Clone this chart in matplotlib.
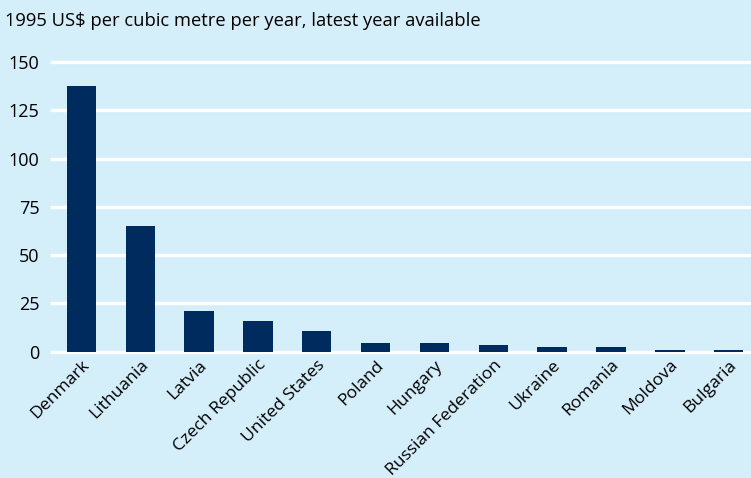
import matplotlib
matplotlib.use("Agg")
import matplotlib.pyplot as plt

countries = ["Denmark", "Lithuania", "Latvia", "Czech Republic", "United States",
             "Poland", "Hungary", "Russian Federation", "Ukraine", "Romania",
             "Moldova", "Bulgaria"]
values = [137.5, 65, 20.8, 15.6, 10.4, 4.4, 4.4, 3.4, 2.3, 2.3, 0.8, 0.8]
yticks = [0, 25, 50, 75, 100, 125, 150]

bg = "#d4eefa"
bar_color = "#002b5e"
plt.rcParams["font.family"] = ["Open Sans", "DejaVu Sans"]

fig = plt.figure(figsize=(7.51, 4.78), dpi=100, facecolor=bg)
ax = fig.add_axes([0.0692, 0.2646, 0.9308, 0.6057], facecolor=bg)

x = list(range(len(countries)))
for t in yticks:
    ax.axhline(t, color="white", lw=2.5, zorder=1, clip_on=False)
ax.bar(x, values, width=0.5, color=bar_color, zorder=2)

ax.set_xlim(-0.5, 11.38)
ax.set_ylim(0, 150)
ax.set_yticks(yticks)
ax.set_yticklabels([str(t) for t in yticks], fontsize=13)
ax.set_xticks(x)
ax.set_xticklabels(countries, rotation=45, ha="right", rotation_mode="anchor", fontsize=12.6)
ax.tick_params(axis="both", length=0, colors="black")
ax.tick_params(axis="x", pad=4)
ax.tick_params(axis="y", pad=9)
for s in ax.spines.values():
    s.set_visible(False)

fig.text(0.007, 0.957, "1995 US$ per cubic metre per year, latest year available",
         fontsize=13.2, va="center", ha="left")

fig.savefig("out.png", dpi=100, facecolor=bg)
